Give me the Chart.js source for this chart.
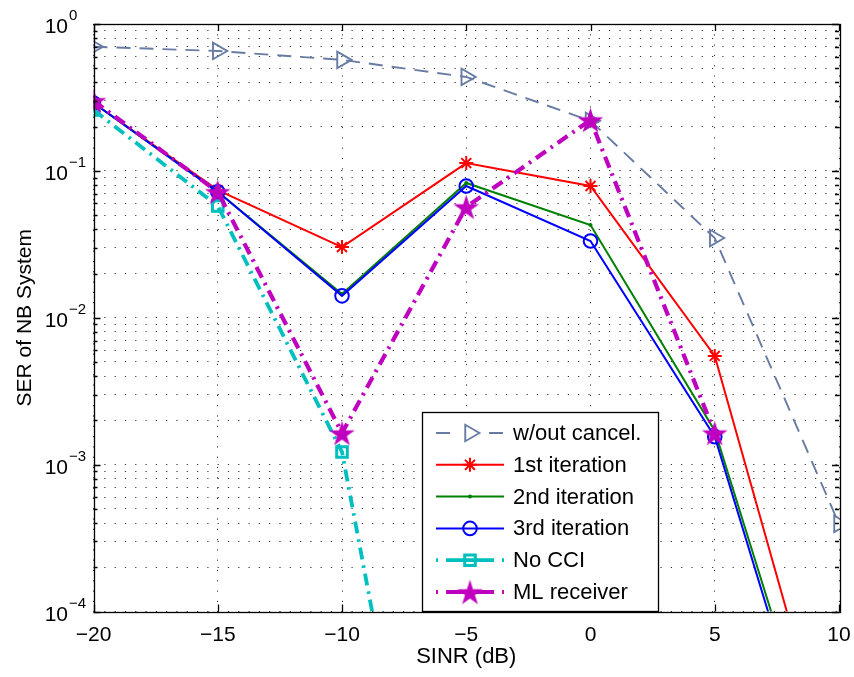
<!DOCTYPE html>
<html>
<head>
<meta charset="utf-8">
<script src="https://cdn.jsdelivr.net/npm/chart.js@4/dist/chart.umd.min.js"></script>
<style>
  html, body { margin: 0; padding: 0; background: #ffffff; }
  #wrap { width: 854px; height: 677px; }
</style>
</head>
<body>
<div id="wrap"><canvas id="c" width="854" height="677"></canvas></div>
<script>
// ---------------- DATA ----------------
const sinrValues = [-20, -15, -10, -5, 0, 5, 10];
const woCancel   = [0.70, 0.655, 0.57, 0.436, 0.219, 0.0349, 3.95e-4];
const iter1      = [0.29, 0.074, 0.0303, 0.113, 0.0789, 0.0055, 5.5e-6];
const iter2      = [0.29, 0.072, 0.0145, 0.0827, 0.0428, 0.0017, 3.3e-6];
const iter3      = [0.29, 0.072, 0.0141, 0.0789, 0.0333, 0.00155, 2.6e-6];
const noCCI      = [0.26, 0.0577, 0.00122, 4e-8, null, null, null];
const mlReceiver = [0.30, 0.072, 0.00164, 0.0568, 0.222, 0.00164, null];

const seriesLabels = ['w/out cancel.', '1st iteration', '2nd iteration', '3rd iteration', 'No CCI', 'ML receiver'];
const xTickValues = [-20, -15, -10, -5, 0, 5, 10];
const xTickLabels = ['\u221220', '\u221215', '\u221210', '\u22125', '0', '5', '10'];
const yTickExponents = [-4, -3, -2, -1, 0];
const yTickExpLabels = ['\u22124', '\u22123', '\u22122', '\u22121', '0'];
const xTitle = 'SINR (dB)';
const yTitle = 'SER of NB System';

// ---------------- STYLES ----------------
const SLATE = 'rgb(104,124,163)';
const RED = '#ff0000';
const GREEN = '#008000';
const BLUE = '#0000ff';
const CYAN = '#00bfbf';
const MAGENTA = '#bf00bf';
const FONT = '"Liberation Sans", Arial, Helvetica, sans-serif';

function makePentagram(R, color) {
  const c = document.createElement('canvas');
  const s = Math.ceil(R * 2 + 2);
  c.width = s; c.height = s;
  const ctx = c.getContext('2d');
  ctx.fillStyle = color;
  ctx.beginPath();
  for (let i = 0; i < 10; i++) {
    const ang = -Math.PI / 2 + i * Math.PI / 5;
    const r = (i % 2) ? R * 0.382 : R;
    const px = s / 2 + r * Math.cos(ang);
    const py = s / 2 + R * 0.1 + r * Math.sin(ang);
    if (i === 0) ctx.moveTo(px, py); else ctx.lineTo(px, py);
  }
  ctx.closePath();
  ctx.fill();
  return c;
}
const starImg = makePentagram(13.5, MAGENTA);

function pts(arr) { return sinrValues.map((x, i) => ({ x: x, y: arr[i] })); }

const datasets = [
  { label: seriesLabels[0], data: pts(woCancel), borderColor: SLATE, borderWidth: 1.9, borderDash: [14, 9],
    pointStyle: 'triangle', pointRotation: 90, pointRadius: 9.5, pointBorderWidth: 1.9,
    pointBorderColor: SLATE, pointBackgroundColor: 'rgba(0,0,0,0)', order: 6,
    legendDash: [14, 39] },
  { label: seriesLabels[1], data: pts(iter1), borderColor: RED, borderWidth: 2, borderDash: [],
    pointStyle: 'star', pointRadius: 7, pointBorderWidth: 2,
    pointBorderColor: RED, pointBackgroundColor: RED, order: 5, legendDash: [] },
  { label: seriesLabels[2], data: pts(iter2), borderColor: GREEN, borderWidth: 2, borderDash: [],
    pointStyle: 'circle', pointRadius: 2, pointBorderWidth: 0,
    pointBorderColor: GREEN, pointBackgroundColor: GREEN, order: 4, legendDash: [] },
  { label: seriesLabels[3], data: pts(iter3), borderColor: BLUE, borderWidth: 2, borderDash: [],
    pointStyle: 'circle', pointRadius: 6.8, pointBorderWidth: 2,
    pointBorderColor: BLUE, pointBackgroundColor: 'rgba(0,0,0,0)', order: 3, legendDash: [] },
  { label: seriesLabels[4], data: pts(noCCI), borderColor: CYAN, borderWidth: 3.8, borderDash: [12, 6, 2.5, 6],
    pointStyle: 'rect', pointRadius: 7.5, pointBorderWidth: 3,
    pointBorderColor: CYAN, pointBackgroundColor: 'rgba(0,0,0,0)', order: 2,
    legendDash: [2, 8, 48, 8, 2] },
  { label: seriesLabels[5], data: pts(mlReceiver), borderColor: MAGENTA, borderWidth: 4.2, borderDash: [12, 6, 2.5, 6],
    pointStyle: starImg, pointRadius: 13, pointBorderWidth: 0,
    pointBorderColor: MAGENTA, pointBackgroundColor: MAGENTA, order: 1,
    legendDash: [2, 8, 48, 8, 2] }
];
datasets.forEach(d => { d.tension = 0; d.fill = false; d.spanGaps = false; });

// ---------------- OVERLAY PLUGIN ----------------
function drawMarker(ctx, ds, x, y) {
  ctx.save();
  ctx.setLineDash([]);
  ctx.strokeStyle = ds.pointBorderColor;
  ctx.fillStyle = ds.pointBackgroundColor;
  ctx.lineWidth = ds.pointBorderWidth;
  const opts = { pointStyle: ds.pointStyle, rotation: ds.pointRotation || 0, radius: ds.pointRadius, borderWidth: ds.pointBorderWidth };
  if (Chart.helpers && Chart.helpers.drawPoint) {
    Chart.helpers.drawPoint(ctx, opts, x, y);
  }
  ctx.restore();
}

const overlay = {
  id: 'overlay',
  beforeDraw(chart) {
    const ctx = chart.ctx;
    ctx.save();
    ctx.fillStyle = '#ffffff';
    ctx.fillRect(0, 0, chart.width, chart.height);
    ctx.restore();
  },
  afterDraw(chart) {
    const ctx = chart.ctx;
    const a = chart.chartArea;
    const xs = chart.scales.x, ys = chart.scales.y;
    ctx.save();
    ctx.setLineDash([]);
    ctx.strokeStyle = '#000';
    ctx.lineWidth = 1.3;
    // ticks (inward) on all four sides
    ctx.beginPath();
    xTickValues.forEach(v => {
      const px = Math.round(xs.getPixelForValue(v)) + 0.5;
      ctx.moveTo(px, a.bottom); ctx.lineTo(px, a.bottom - 7);
      ctx.moveTo(px, a.top); ctx.lineTo(px, a.top + 7);
    });
    yTickExponents.forEach((e, k) => {
      for (let m = 1; m <= 9; m++) {
        if (k === yTickExponents.length - 1 && m > 1) break;
        const v = m * Math.pow(10, e);
        const py = Math.round(ys.getPixelForValue(v)) + 0.5;
        const len = m === 1 ? 7 : 4;
        ctx.moveTo(a.left, py); ctx.lineTo(a.left + len, py);
        ctx.moveTo(a.right, py); ctx.lineTo(a.right - len, py);
      }
    });
    ctx.stroke();
    // box
    ctx.strokeRect(Math.round(a.left) + 0.5, Math.round(a.top) + 0.5,
                   Math.round(a.right - a.left), Math.round(a.bottom - a.top));

    // tick labels
    ctx.fillStyle = '#000';
    ctx.font = '21px ' + FONT;
    ctx.textAlign = 'center';
    ctx.textBaseline = 'alphabetic';
    xTickValues.forEach((v, i) => {
      ctx.fillText(xTickLabels[i], xs.getPixelForValue(v), a.bottom + 29.5);
    });
    yTickExponents.forEach((e, i) => {
      const py = ys.getPixelForValue(Math.pow(10, e));
      ctx.font = '21px ' + FONT;
      ctx.textAlign = 'right';
      ctx.fillText('10', 68, py + 9);
      ctx.font = '15px ' + FONT;
      ctx.textAlign = 'left';
      ctx.fillText(yTickExpLabels[i], 69, py - 4);
    });

    // axis titles
    ctx.font = '22px ' + FONT;
    ctx.textAlign = 'center';
    ctx.fillText(xTitle, (a.left + a.right) / 2, 663);
    ctx.save();
    ctx.translate(31, (a.top + a.bottom) / 2);
    ctx.rotate(-Math.PI / 2);
    ctx.font = '21px ' + FONT;
    ctx.fillText(yTitle, 0, 0);
    ctx.restore();

    // legend
    const lx = 422.5, ly = 412.5, lw = 236, lh = a.bottom - 412.5;
    ctx.fillStyle = '#fff';
    ctx.fillRect(lx, ly, lw, lh);
    ctx.strokeStyle = '#000';
    ctx.lineWidth = 1.3;
    ctx.strokeRect(lx, ly, lw, lh);
    datasets.forEach((ds, i) => {
      const cy = 433 + i * 31.8;
      ctx.save();
      ctx.strokeStyle = ds.borderColor;
      ctx.lineWidth = ds.borderWidth;
      ctx.setLineDash(ds.legendDash);
      ctx.beginPath();
      ctx.moveTo(436, cy); ctx.lineTo(504, cy);
      ctx.stroke();
      ctx.restore();
      drawMarker(ctx, ds, 470, cy);
      ctx.fillStyle = '#000';
      ctx.font = '22px ' + FONT;
      ctx.textAlign = 'left';
      ctx.textBaseline = 'middle';
      ctx.fillText(ds.label, 513, cy + 1);
    });
    ctx.restore();
  }
};

// ---------------- CHART ----------------
new Chart(document.getElementById('c'), {
  type: 'line',
  data: { datasets: datasets },
  options: {
    responsive: false,
    animation: false,
    devicePixelRatio: 1,
    layout: { padding: { left: 0, right: 15, top: 24, bottom: 0 } },
    plugins: { legend: { display: false }, tooltip: { enabled: false } },
    elements: { line: { tension: 0 } },
    scales: {
      x: {
        type: 'linear', min: -20, max: 10,
        ticks: { display: false, stepSize: 5 },
        afterBuildTicks: (s) => { s.ticks = xTickValues.map(v => ({ value: v })); },
        afterFit: (s) => { s.height = 65.5; },
        grid: { color: 'rgba(0,0,0,0.8)', lineWidth: 1, drawTicks: false },
        border: { display: false, dash: [1.2, 9.1] }
      },
      y: {
        type: 'logarithmic', min: 1e-4, max: 1,
        ticks: { display: false },
        afterBuildTicks: (s) => {
          const t = [];
          yTickExponents.forEach((e, k) => {
            for (let m = 1; m <= 9; m++) {
              if (k === yTickExponents.length - 1 && m > 1) break;
              t.push({ value: m * Math.pow(10, e), major: m === 1 });
            }
          });
          s.ticks = t;
        },
        afterFit: (s) => { s.width = 93.5; },
        grid: { color: 'rgba(0,0,0,0.8)', lineWidth: 1, drawTicks: false },
        border: { display: false, dash: [1.2, 9.1] }
      }
    }
  },
  plugins: [overlay]
});
</script>
</body>
</html>
